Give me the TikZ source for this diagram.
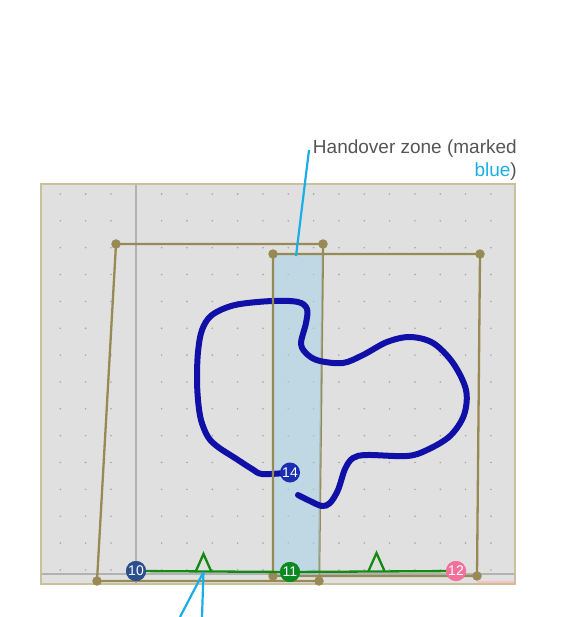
\documentclass[tikz,border=0pt]{standalone}
\usepackage{fontspec}
\setmainfont{Liberation Sans}
\begin{document}
\begin{tikzpicture}[x=1pt,y=-1pt,
  quad/.style={draw=quadc,line width=2.3pt,line join=round},
  qdot/.style={circle,fill=quadc,inner sep=0pt,minimum size=9.5pt},
  num/.style={circle,inner sep=0pt,minimum size=20pt,text=white,font=\fontsize{14}{14}\selectfont},
  callout/.style={draw=calloutc,line width=2.2pt},
  tri/.style={draw=greenc,line width=2.3pt,line join=miter},
]
\definecolor{bgc}{HTML}{E0E0E0}
\definecolor{bordc}{HTML}{C9C19C}
\definecolor{quadc}{HTML}{978A55}
\definecolor{zonec}{HTML}{A9D3E6}
\definecolor{curvec}{HTML}{1010A8}
\definecolor{greenc}{HTML}{138A13}
\definecolor{calloutc}{HTML}{1AAEE8}
\definecolor{n10}{HTML}{2C4F8E}
\definecolor{n11}{HTML}{0C8A22}
\definecolor{n12}{HTML}{F2709C}
\definecolor{n14}{HTML}{1A2EB2}
\definecolor{textc}{HTML}{555555}
\useasboundingbox (0,0) rectangle (578,617);
% background panel
\draw[fill=bgc,draw=bordc,line width=2pt] (41,184) rectangle (515,584);
% dots grid
\foreach \i in {0,...,17}{
  \foreach \j in {0,...,14}{
    \fill[gray!70] ({60.3+25.33*\i},{194+26.85*\j}) circle (0.9pt);
  }
}
% axes
\draw[gray!60,line width=1.2pt] (136,185) -- (136,583);
\draw[gray!60,line width=1.2pt] (42,574) -- (514,574);
\draw[red!25,line width=1.2pt] (477,582) -- (514,582);
% left quad
\coordinate (a1) at (116,244);
\coordinate (a2) at (323,244);
\coordinate (a3) at (319,581);
\coordinate (a4) at (97,581);
% right quad
\coordinate (b1) at (273,254);
\coordinate (b2) at (480,254);
\coordinate (b3) at (477,576);
\coordinate (b4) at (273,576);
\draw[quad] (a1) -- (a2) -- (a3) -- (a4) -- cycle;
% handover zone
\fill[zonec,opacity=0.6] (273,254) -- (322.4,254) -- (319.3,576) -- (273,576) -- cycle;
% path
\draw[curvec,line width=6pt,line cap=round,line join=round]
  plot[smooth,tension=0.55] coordinates {
  (285,473) (262,474) (252,469) (235,458) (218,447) (208,437) (201,420) (198,400)
  (197,378) (198,352) (202,330) (212,315) (235,305) (272,301) (298,302)
  (307,309) (306,323) (301,344) (308,355) (320,361) (343,363) (363,355)
  (387,342) (410,337) (433,343) (453,363) (466,390) (464,415) (450,436)
  (427,450) (407,456) (367,455) (353,458) (345,469) (338,490) (330,503)
  (322,506) (310,501) (298,495)};
\draw[quad] (b1) -- (b2) -- (b3) -- (b4) -- cycle;
\foreach \p in {a1,a2,a3,a4,b1,b2,b3,b4}{\node[qdot] at (\p) {};}
% nodes
\node[num,fill=n10] (n10) at (136,571) {10};
\node[num,fill=n11] (n11) at (290,572) {11};
\node[num,fill=n12] (n12) at (456,571) {12};
% green line
\draw[greenc,line width=2.3pt] (n10) -- (n11) -- (n12);
\node[num,fill=n11] at (290,572) {11};
\node[num,fill=n12] at (456,571) {12};
\node[num,fill=n10] at (136,571) {10};
% triangles
\coordinate (t1) at (203.5,572);
\coordinate (t2) at (376.5,571);
\draw[tri] (195.5,572) -- (203.5,554) -- (211.5,572);
\draw[tri] (368.5,571) -- (376.5,553) -- (384.5,571);
\node[num,fill=n14] (n14) at (290,472.5) {14};
% callouts
\coordinate (c1) at (296,256);
\coordinate (c2) at (309,150);
\draw[callout] (c1) -- (c2);
\node[anchor=base east,text=textc,font=\fontsize{19}{19}\selectfont,inner sep=0pt] (lab1) at (517,154) {Handover zone (marked};
\node[anchor=base east,font=\fontsize{19}{19}\selectfont,inner sep=0pt] (lab2) at (517,177) {\textcolor{calloutc}{blue}\textcolor{textc}{)}};
\coordinate (d1) at (180,617);
\coordinate (d2) at (202,617);
\draw[callout] (t1) -- (d1);
\draw[callout] (t1) -- (d2);
\end{tikzpicture}
\end{document}
